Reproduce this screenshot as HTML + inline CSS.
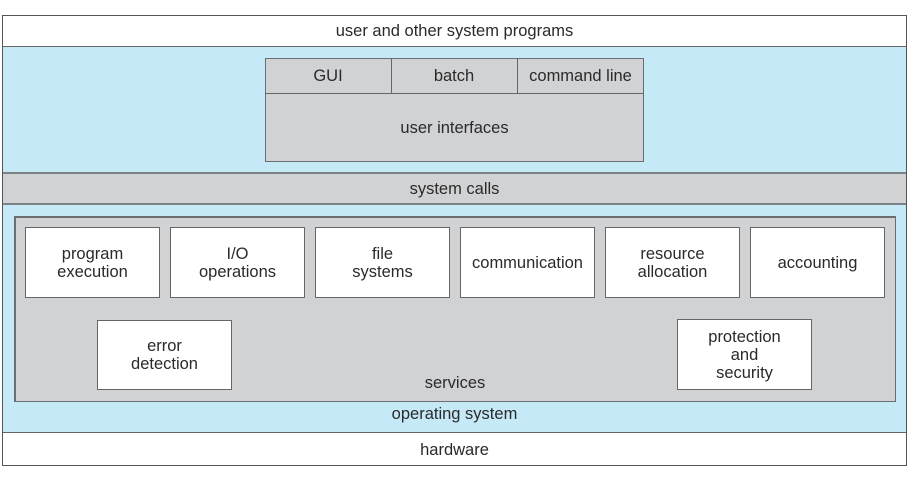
<!DOCTYPE html>
<html><head><style>
body{margin:0;width:920px;height:477px;background:#fff;position:relative;font-family:"Liberation Sans",sans-serif;font-size:16.5px;color:#2a2a2a;overflow:hidden}
.a{position:absolute;box-sizing:border-box;display:flex;align-items:center;justify-content:center;text-align:center;line-height:18px}
.w{background:#fff;border:1px solid #666}
.b{background:#c6e9f8}
.g{background:#d1d2d4;border:1px solid #6a6e72}
</style></head><body>
<div class="a" style="left:2px;top:15px;width:905px;height:451px;border:1px solid #555"></div>
<div class="a" style="left:3px;top:16px;width:903px;height:31px;border-bottom:1px solid #666">user and other system programs</div>
<div class="a b" style="left:3px;top:47px;width:903px;height:125px"></div>
<div class="a g" style="left:265px;top:58px;width:379px;height:104px"></div>
<div class="a" style="left:265px;top:58px;width:127px;height:36px;border-right:1px solid #666;border-bottom:1px solid #666">GUI</div>
<div class="a" style="left:391px;top:58px;width:127px;height:36px;border-right:1px solid #666;border-bottom:1px solid #666">batch</div>
<div class="a" style="left:517px;top:58px;width:127px;height:36px;border-bottom:1px solid #666">command line</div>
<div class="a" style="left:265px;top:94px;width:379px;height:67px">user interfaces</div>
<div class="a" style="left:3px;top:172px;width:903px;height:33px;background:#d1d2d4;border-top:2px solid #7d8287;border-bottom:2px solid #7d8287">system calls</div>
<div class="a b" style="left:3px;top:205px;width:903px;height:228px;border-bottom:1px solid #666"></div>
<div class="a g" style="left:14px;top:216px;width:882px;height:186px;border-width:2px 1px 1px 2px"></div>
<div class="a w" style="left:25px;top:227px;width:135px;height:71px">program<br>execution</div>
<div class="a w" style="left:170px;top:227px;width:135px;height:71px">I/O<br>operations</div>
<div class="a w" style="left:315px;top:227px;width:135px;height:71px">file<br>systems</div>
<div class="a w" style="left:460px;top:227px;width:135px;height:71px">communication</div>
<div class="a w" style="left:605px;top:227px;width:135px;height:71px">resource<br>allocation</div>
<div class="a w" style="left:750px;top:227px;width:135px;height:71px">accounting</div>
<div class="a w" style="left:97px;top:320px;width:135px;height:70px">error<br>detection</div>
<div class="a w" style="left:677px;top:319px;width:135px;height:71px">protection<br>and<br>security</div>
<div class="a" style="left:14px;top:374px;width:882px;height:18px">services</div>
<div class="a" style="left:3px;top:404px;width:903px;height:20px">operating system</div>
<div class="a" style="left:3px;top:434px;width:903px;height:31px">hardware</div>
</body></html>
